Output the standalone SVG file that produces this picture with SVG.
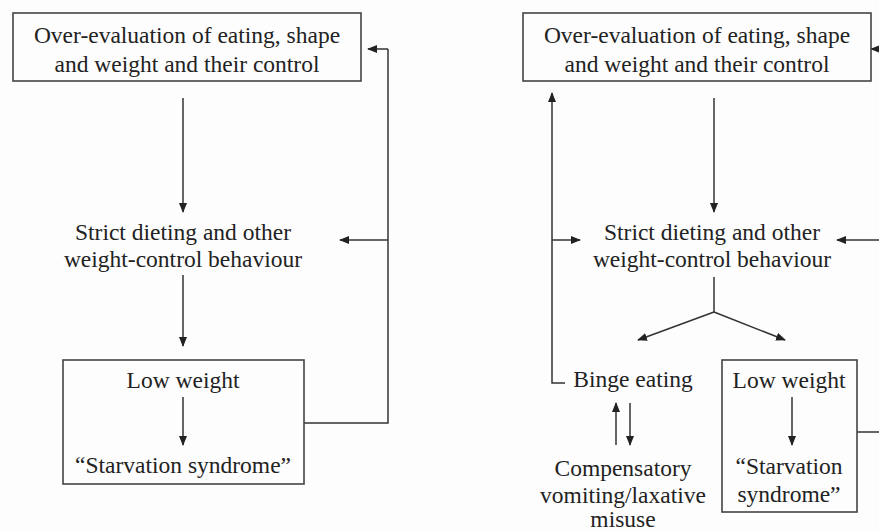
<svg xmlns="http://www.w3.org/2000/svg" width="879" height="530" viewBox="0 0 879 530">
<defs>
<marker id="ah" markerWidth="10" markerHeight="8" refX="9" refY="4" orient="auto" markerUnits="userSpaceOnUse">
<path d="M0,0 L10,4 L0,8 Z" fill="#222"/>
</marker>
<style>
text{font-family:"Liberation Serif","Times New Roman",serif;font-size:23.5px;fill:#222;text-anchor:middle}
.box{fill:none;stroke:#444;stroke-width:1.6}
.ln{fill:none;stroke:#333;stroke-width:1.5}
.ar{fill:none;stroke:#333;stroke-width:1.5;marker-end:url(#ah)}
</style>
</defs>
<rect width="879" height="530" fill="#fdfdfd"/>
<g id="connectors">
<line class="ar" x1="183" y1="98" x2="183" y2="212"/>
<line class="ar" x1="183" y1="275" x2="183" y2="346"/>
<line class="ar" x1="183" y1="397" x2="183" y2="445"/>
<polyline class="ln" points="304,423 388,423 388,49"/>
<line class="ar" x1="388" y1="49" x2="368" y2="49"/>
<line class="ar" x1="388" y1="240" x2="340" y2="240"/>
<line class="ar" x1="714" y1="98" x2="714" y2="212"/>
<polyline class="ln" points="565,383 552,383 552,240"/>
<line class="ar" x1="552" y1="240" x2="552" y2="93"/>
<line class="ar" x1="552" y1="240" x2="580" y2="240"/>
<line class="ln" x1="714" y1="277" x2="714" y2="312"/>
<line class="ar" x1="714" y1="312" x2="638" y2="340"/>
<line class="ar" x1="714" y1="312" x2="785" y2="340"/>
<line class="ar" x1="616" y1="445" x2="616" y2="403"/>
<line class="ar" x1="630" y1="403" x2="630" y2="445"/>
<line class="ar" x1="792" y1="397" x2="792" y2="445"/>
<line class="ar" x1="882" y1="49" x2="871" y2="49"/>
<line class="ar" x1="882" y1="240" x2="837" y2="240"/>
<line class="ln" x1="857" y1="432" x2="882" y2="432"/>
</g>
<g id="L_overeval">
<rect class="box" x="13" y="13" width="348" height="68"/>
<text x="187" y="43">Over-evaluation of eating, shape</text>
<text x="187" y="72">and weight and their control</text>
</g>
<g id="L_dieting">
<text x="183" y="240">Strict dieting and other</text>
<text x="183" y="267">weight-control behaviour</text>
</g>
<g id="L_lowweight">
<rect class="box" x="63" y="360" width="241" height="124"/>
<text x="183" y="388">Low weight</text>
<text x="183" y="473">“Starvation syndrome”</text>
</g>
<g id="R_overeval">
<rect class="box" x="523" y="13" width="348" height="68"/>
<text x="697" y="43">Over-evaluation of eating, shape</text>
<text x="697" y="72">and weight and their control</text>
</g>
<g id="R_dieting">
<text x="712" y="240">Strict dieting and other</text>
<text x="712" y="267">weight-control behaviour</text>
</g>
<g id="R_binge">
<text x="633" y="387">Binge eating</text>
</g>
<g id="R_compensatory">
<text x="623" y="476">Compensatory</text>
<text x="623" y="503">vomiting/laxative</text>
<text x="623" y="527">misuse</text>
</g>
<g id="R_lowweight">
<rect class="box" x="722" y="360" width="135" height="152"/>
<text x="789" y="388">Low weight</text>
<text x="789" y="474">“Starvation</text>
<text x="789" y="502">syndrome”</text>
</g>
</svg>
